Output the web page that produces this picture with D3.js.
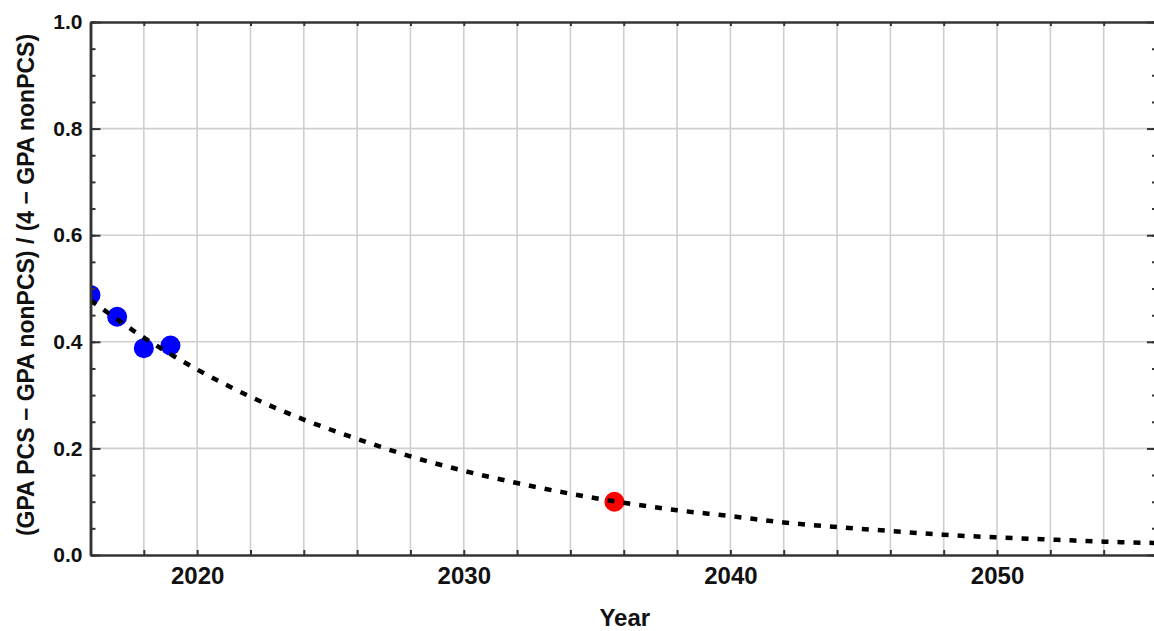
<!DOCTYPE html>
<html>
<head>
<meta charset="utf-8">
<script src="https://cdn.jsdelivr.net/npm/d3@7"></script>
<style>
  body { margin: 0; background: #fff; }
  svg { display: block; font-family: "Liberation Sans", Arial, sans-serif; font-weight: bold; }
</style>
</head>
<body>
<div id="chart"></div>
<script>
// Data
const fitYears = [2016, 2018, 2020, 2022, 2024, 2026, 2028, 2030, 2032, 2034, 2036,
                  2038, 2040, 2042, 2044, 2046, 2048, 2050, 2052, 2054, 2056];
const fitValues = [0.478, 0.408, 0.348, 0.297, 0.254, 0.218, 0.185, 0.158, 0.135, 0.115, 0.098,
                   0.084, 0.073, 0.061, 0.0525, 0.045, 0.038, 0.033, 0.029, 0.025, 0.0225];
const observedYears = [2016, 2017, 2018, 2019];
const observedValues = [0.488, 0.447, 0.388, 0.393];
const projectedYears = [2035.65];
const projectedValues = [0.100];
const xTickValues = d3.range(2016, 2057, 2);
const xLabelValues = [2020, 2030, 2040, 2050];
const yMajorTicks = [0, 0.2, 0.4, 0.6, 0.8, 1.0];
const yMinorTicks = d3.range(0, 1.001, 0.05);

const width = 1154, height = 631;
const margin = { left: 90.5, top: 22, right: 1157, bottom: 555 };

const x = d3.scaleLinear().domain([2016, 2056]).range([margin.left, margin.right]);
const y = d3.scaleLinear().domain([0, 1]).range([margin.bottom, margin.top]);

const svg = d3.select('#chart').append('svg')
    .attr('width', width)
    .attr('height', height);

svg.append('rect').attr('width', width).attr('height', height).attr('fill', '#fff');

svg.append('defs').append('clipPath').attr('id', 'plot-clip')
  .append('rect')
    .attr('x', margin.left).attr('y', margin.top)
    .attr('width', margin.right - margin.left)
    .attr('height', margin.bottom - margin.top);

// grid
const grid = svg.append('g').attr('stroke', '#cfcfcf').attr('stroke-width', 1.6);
grid.selectAll('line.v')
  .data(xTickValues.slice(1, -1))
  .join('line')
    .attr('class', 'v')
    .attr('x1', d => x(d)).attr('x2', d => x(d))
    .attr('y1', margin.top).attr('y2', margin.bottom);
grid.selectAll('line.h')
  .data(yMajorTicks.slice(1, -1))
  .join('line')
    .attr('class', 'h')
    .attr('x1', margin.left).attr('x2', margin.right)
    .attr('y1', d => y(d)).attr('y2', d => y(d));

const plot = svg.append('g').attr('clip-path', 'url(#plot-clip)');

// points
plot.selectAll('circle.obs')
  .data(observedYears.map((d, i) => [d, observedValues[i]]))
  .join('circle')
    .attr('class', 'obs')
    .attr('cx', d => x(d[0]))
    .attr('cy', d => y(d[1]))
    .attr('r', 10)
    .attr('fill', '#0000ff');

plot.selectAll('circle.proj')
  .data(projectedYears.map((d, i) => [d, projectedValues[i]]))
  .join('circle')
    .attr('class', 'proj')
    .attr('cx', d => x(d[0]))
    .attr('cy', d => y(d[1]))
    .attr('r', 10)
    .attr('fill', '#ff0000');

// fitted curve
const line = d3.line()
    .x(d => x(d[0]))
    .y(d => y(d[1]))
    .curve(d3.curveMonotoneX);

plot.append('path')
    .datum(fitYears.map((d, i) => [d, fitValues[i]]))
    .attr('d', line)
    .attr('fill', 'none')
    .attr('stroke', '#000')
    .attr('stroke-width', 4.5)
    .attr('stroke-dasharray', '7,9');

// axes
function styleAxis(g) {
    g.select('.domain').attr('stroke', '#333').attr('stroke-width', 2.5);
    g.selectAll('.tick line').attr('stroke', '#333').attr('stroke-width', 2);
    g.selectAll('.tick text').attr('fill', '#111');
}

svg.append('g')
    .attr('transform', `translate(0,${margin.bottom})`)
    .call(d3.axisBottom(x).tickValues(xTickValues)
        .tickFormat(d => xLabelValues.includes(d) ? d : '')
        .tickSize(-5).tickSizeOuter(0).tickPadding(12))
    .call(styleAxis)
    .selectAll('.tick text').attr('font-size', 24).attr('font-family', null);

svg.append('g')
    .attr('transform', `translate(0,${margin.top})`)
    .call(d3.axisTop(x).tickValues(xTickValues).tickFormat('').tickSize(-4).tickSizeOuter(0))
    .call(styleAxis);

svg.append('g')
    .attr('transform', `translate(${margin.left},0)`)
    .call(d3.axisLeft(y).tickValues(yMinorTicks).tickFormat('').tickSize(-5).tickSizeOuter(0))
    .call(styleAxis);

svg.append('g')
    .attr('transform', `translate(${margin.left},0)`)
    .call(d3.axisLeft(y).tickValues(yMajorTicks).tickFormat(d3.format('.1f'))
        .tickSize(-10).tickSizeOuter(0).tickPadding(8))
    .call(styleAxis)
    .selectAll('.tick text').attr('font-size', 21).attr('font-family', null);

svg.append('g')
    .attr('transform', `translate(${margin.right},0)`)
    .call(d3.axisRight(y).tickValues(yMinorTicks).tickFormat('').tickSize(-5).tickSizeOuter(0))
    .call(styleAxis);

svg.append('g')
    .attr('transform', `translate(${margin.right},0)`)
    .call(d3.axisRight(y).tickValues(yMajorTicks).tickFormat('').tickSize(-10).tickSizeOuter(0))
    .call(styleAxis);

// axis titles
svg.append('text')
    .attr('x', (margin.left + margin.right) / 2 + 1)
    .attr('y', 626)
    .attr('text-anchor', 'middle')
    .attr('font-size', 24)
    .attr('fill', '#111')
    .text('Year');

svg.append('text')
    .attr('transform', 'translate(34,285) rotate(-90)')
    .attr('text-anchor', 'middle')
    .attr('font-size', 23)
    .attr('fill', '#111')
    .text('(GPA PCS \u2212 GPA nonPCS) / (4 \u2212 GPA nonPCS)');
</script>
</body>
</html>
